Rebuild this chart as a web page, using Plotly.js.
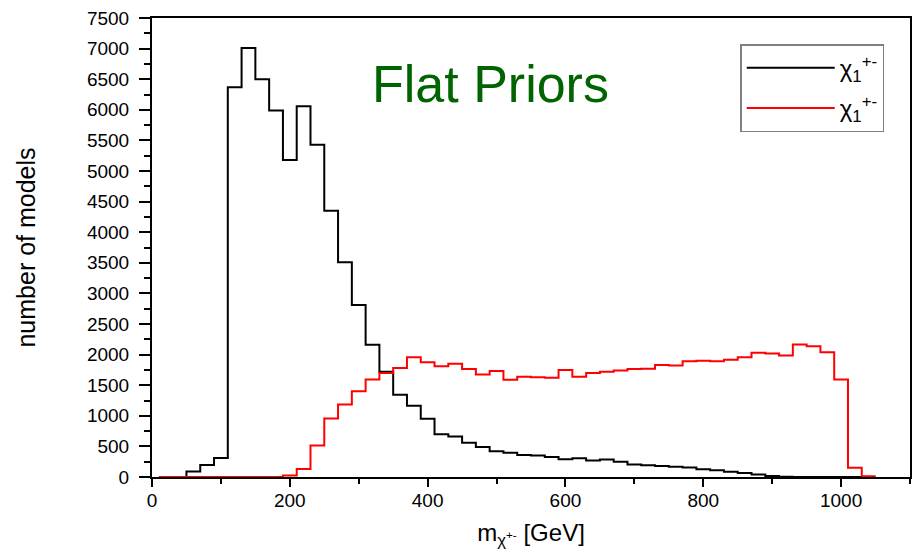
<!DOCTYPE html>
<html>
<head>
<meta charset="utf-8">
<script src="https://cdn.plot.ly/plotly-3.0.1.min.js"></script>
<style>
  html, body { margin: 0; padding: 0; background: #ffffff; }
  #chart { width: 912px; height: 556px; }
</style>
</head>
<body>
<div id="chart"></div>
<script>
// Bin centres (GeV), bin width 20 GeV
const binCenters = [20, 40, 60, 80, 100, 120, 140, 160, 180, 200,
  220, 240, 260, 280, 300, 320, 340, 360, 380, 400,
  420, 440, 460, 480, 500, 520, 540, 560, 580, 600,
  620, 640, 660, 680, 700, 720, 740, 760, 780, 800,
  820, 840, 860, 880, 900, 920, 940, 960, 980, 1000,
  1020, 1040];
const binWidth = 20;

// Series 1 (black)
const blackCounts = [0, 0, 90, 195, 310, 6370, 7010, 6500, 5990, 5180,
  6060, 5430, 4350, 3510, 2810, 2160, 1720, 1345, 1165, 950,
  700, 660, 560, 490, 420, 395, 360, 352, 325, 290,
  305, 270, 285, 250, 205, 190, 180, 168, 155, 128,
  110, 85, 65, 40, 18, 6, 2, 0, 0, 0,
  0, 0];

// Series 2 (red)
const redCounts = [0, 0, 0, 0, 0, 0, 0, 0, 0, 25,
  130, 515, 955, 1185, 1400, 1595, 1700, 1780, 1955, 1875,
  1810, 1850, 1765, 1675, 1730, 1590, 1640, 1630, 1620, 1750,
  1640, 1700, 1720, 1740, 1765, 1770, 1830, 1820, 1890, 1900,
  1890, 1915, 1955, 2030, 2020, 1985, 2165, 2135, 2040, 1595,
  150, 12];

const seriesNames = ["χ<sub>1</sub><sup>+-</sup>", "χ<sub>1</sub><sup>+-</sup>"];
const xTickVals = [0, 200, 400, 600, 800, 1000];
const yTickVals = [0, 500, 1000, 1500, 2000, 2500, 3000, 3500, 4000, 4500, 5000, 5500, 6000, 6500, 7000, 7500];

// Step outline: left bin edges plus the closing right edge
function stepX(centers) {
  const xs = centers.map(c => c - binWidth / 2);
  xs.push(centers[centers.length - 1] + binWidth / 2);
  return xs;
}
function stepY(vals) {
  return vals.concat([vals[vals.length - 1]]);
}

const FONT = "Liberation Sans, Arial, sans-serif";

const traces = [
  {
    x: stepX(binCenters), y: stepY(blackCounts), name: seriesNames[0], legendgroup: "a",
    type: "scatter", mode: "lines", line: { shape: "hv", color: "#000000", width: 2 }
  },
  {
    x: stepX(binCenters), y: stepY(redCounts), name: seriesNames[1], legendgroup: "b",
    type: "scatter", mode: "lines", line: { shape: "hv", color: "#ff0000", width: 2 }
  }
];

const layout = {
  width: 912, height: 556,
  margin: { l: 152, r: 2, t: 18, b: 79, pad: 0 },
  paper_bgcolor: "#ffffff", plot_bgcolor: "#ffffff",
  font: { family: FONT, color: "#000000", size: 18 },
  showlegend: true,
  legend: {
    x: 0.966, y: 0.943, xanchor: "right", yanchor: "top",
    bordercolor: "#808080", borderwidth: 1.5, bgcolor: "#ffffff",
    font: { family: FONT, size: 24, color: "#000000" },
    itemwidth: 88, tracegroupgap: 6
  },
  xaxis: {
    range: [0, 1100], showgrid: false, zeroline: false,
    showline: true, linecolor: "#000000", linewidth: 2, mirror: true,
    tickmode: "array", tickvals: xTickVals, ticktext: xTickVals.map(String),
    ticks: "outside", ticklen: 8, tickwidth: 2, tickcolor: "#000000",
    minor: { dtick: 100, ticks: "outside", ticklen: 5, tickwidth: 2, tickcolor: "#000000", showgrid: false },
    tickfont: { family: FONT, size: 19 }, ticklabelstandoff: -3,
    title: { text: "m<sub>χ<sup>+-</sup></sub> [GeV]", font: { family: FONT, size: 24 }, standoff: 14 }
  },
  yaxis: {
    range: [0, 7500], showgrid: false, zeroline: false,
    showline: true, linecolor: "#000000", linewidth: 2, mirror: true,
    tickmode: "array", tickvals: yTickVals, ticktext: yTickVals.map(String),
    ticks: "outside", ticklen: 11, tickwidth: 2, tickcolor: "#000000",
    minor: { dtick: 250, ticks: "outside", ticklen: 6, tickwidth: 2, tickcolor: "#000000", showgrid: false },
    tickfont: { family: FONT, size: 19 }, ticklabelstandoff: 6,
    title: { text: "number of models", font: { family: FONT, size: 25 }, standoff: 44 }
  },
  annotations: [
    {
      text: "Flat Priors", xref: "paper", yref: "paper",
      x: 0.447, y: 0.924, xanchor: "center", yanchor: "top",
      showarrow: false, font: { family: FONT, size: 52, color: "#006400" }
    }
  ]
};

Plotly.newPlot("chart", traces, layout, { displayModeBar: false, staticPlot: true });
</script>
</body>
</html>
